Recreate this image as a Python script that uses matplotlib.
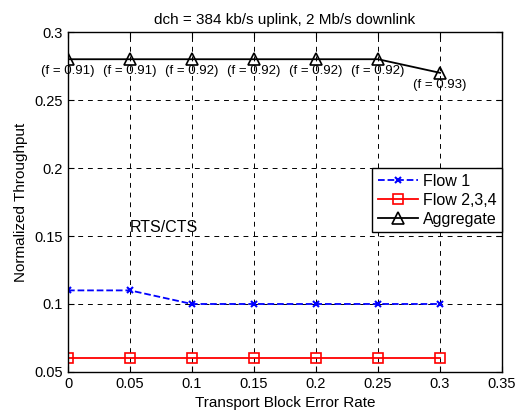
import matplotlib.pyplot as plt
from matplotlib.ticker import FormatStrFormatter

plt.rcParams['font.family'] = ['Liberation Sans', 'DejaVu Sans']

# data
bler = [0, 0.05, 0.1, 0.15, 0.2, 0.25, 0.3]
flow1 = [0.11, 0.11, 0.10, 0.10, 0.10, 0.10, 0.10]
flow234 = [0.06, 0.06, 0.06, 0.06, 0.06, 0.06, 0.06]
aggregate = [0.28, 0.28, 0.28, 0.28, 0.28, 0.28, 0.27]
fairness = ['0.91', '0.91', '0.92', '0.92', '0.92', '0.92', '0.93']

fig = plt.figure(figsize=(5.2, 4.16), dpi=100)
ax = fig.add_axes([0.1308, 0.1058, 0.8346, 0.8172])

ax.plot(bler, flow1, color='blue', linestyle='--', lw=1.3, marker='x',
        ms=5, mew=1.5, label='Flow 1')
ax.plot(bler, flow234, color='red', linestyle='-', lw=1.3, marker='s',
        ms=7, mfc='none', mew=1.2, label='Flow 2,3,4')
ax.plot(bler, aggregate, color='black', linestyle='-', lw=1.3, marker='^',
        ms=8, mfc='none', mew=1.2, label='Aggregate')

# fairness labels under the aggregate points
for x, y, f in zip(bler, aggregate, fairness):
    ax.annotate(f'(f = {f})', xy=(x, y), xytext=(0, -12),
                textcoords='offset pixels', ha='center', va='center',
                fontsize=9.5)

ax.text(0.05, 0.1505, 'RTS/CTS', fontsize=11.5, ha='left', va='bottom')

ax.set_xlim(0, 0.35)
ax.set_ylim(0.05, 0.3)
ax.set_xticks([0, 0.05, 0.1, 0.15, 0.2, 0.25, 0.3, 0.35])
ax.set_yticks([0.05, 0.1, 0.15, 0.2, 0.25, 0.3])
ax.xaxis.set_major_formatter(FormatStrFormatter('%g'))
ax.yaxis.set_major_formatter(FormatStrFormatter('%g'))
ax.tick_params(direction='in', top=True, right=True, labelsize=10.5,
               length=4, width=0.8)
ax.grid(True, color='black', linestyle=(0, (5, 5)), lw=0.7)
for s in ax.spines.values():
    s.set_linewidth(1.0)

ax.set_title('dch = 384 kb/s uplink, 2 Mb/s downlink', fontsize=11, pad=6)
ax.set_xlabel('Transport Block Error Rate', fontsize=11, labelpad=4)
ax.set_ylabel('Normalized Throughput', fontsize=11, labelpad=5)

leg = ax.legend(loc='upper right', bbox_to_anchor=(1.0, 0.6), fontsize=11.5,
                fancybox=False, edgecolor='black', framealpha=1,
                borderaxespad=0, handlelength=2.5, labelspacing=0.25,
                borderpad=0.35, handletextpad=0.3)
leg.get_frame().set_linewidth(1.0)

fig.savefig('out.png', dpi=100)
